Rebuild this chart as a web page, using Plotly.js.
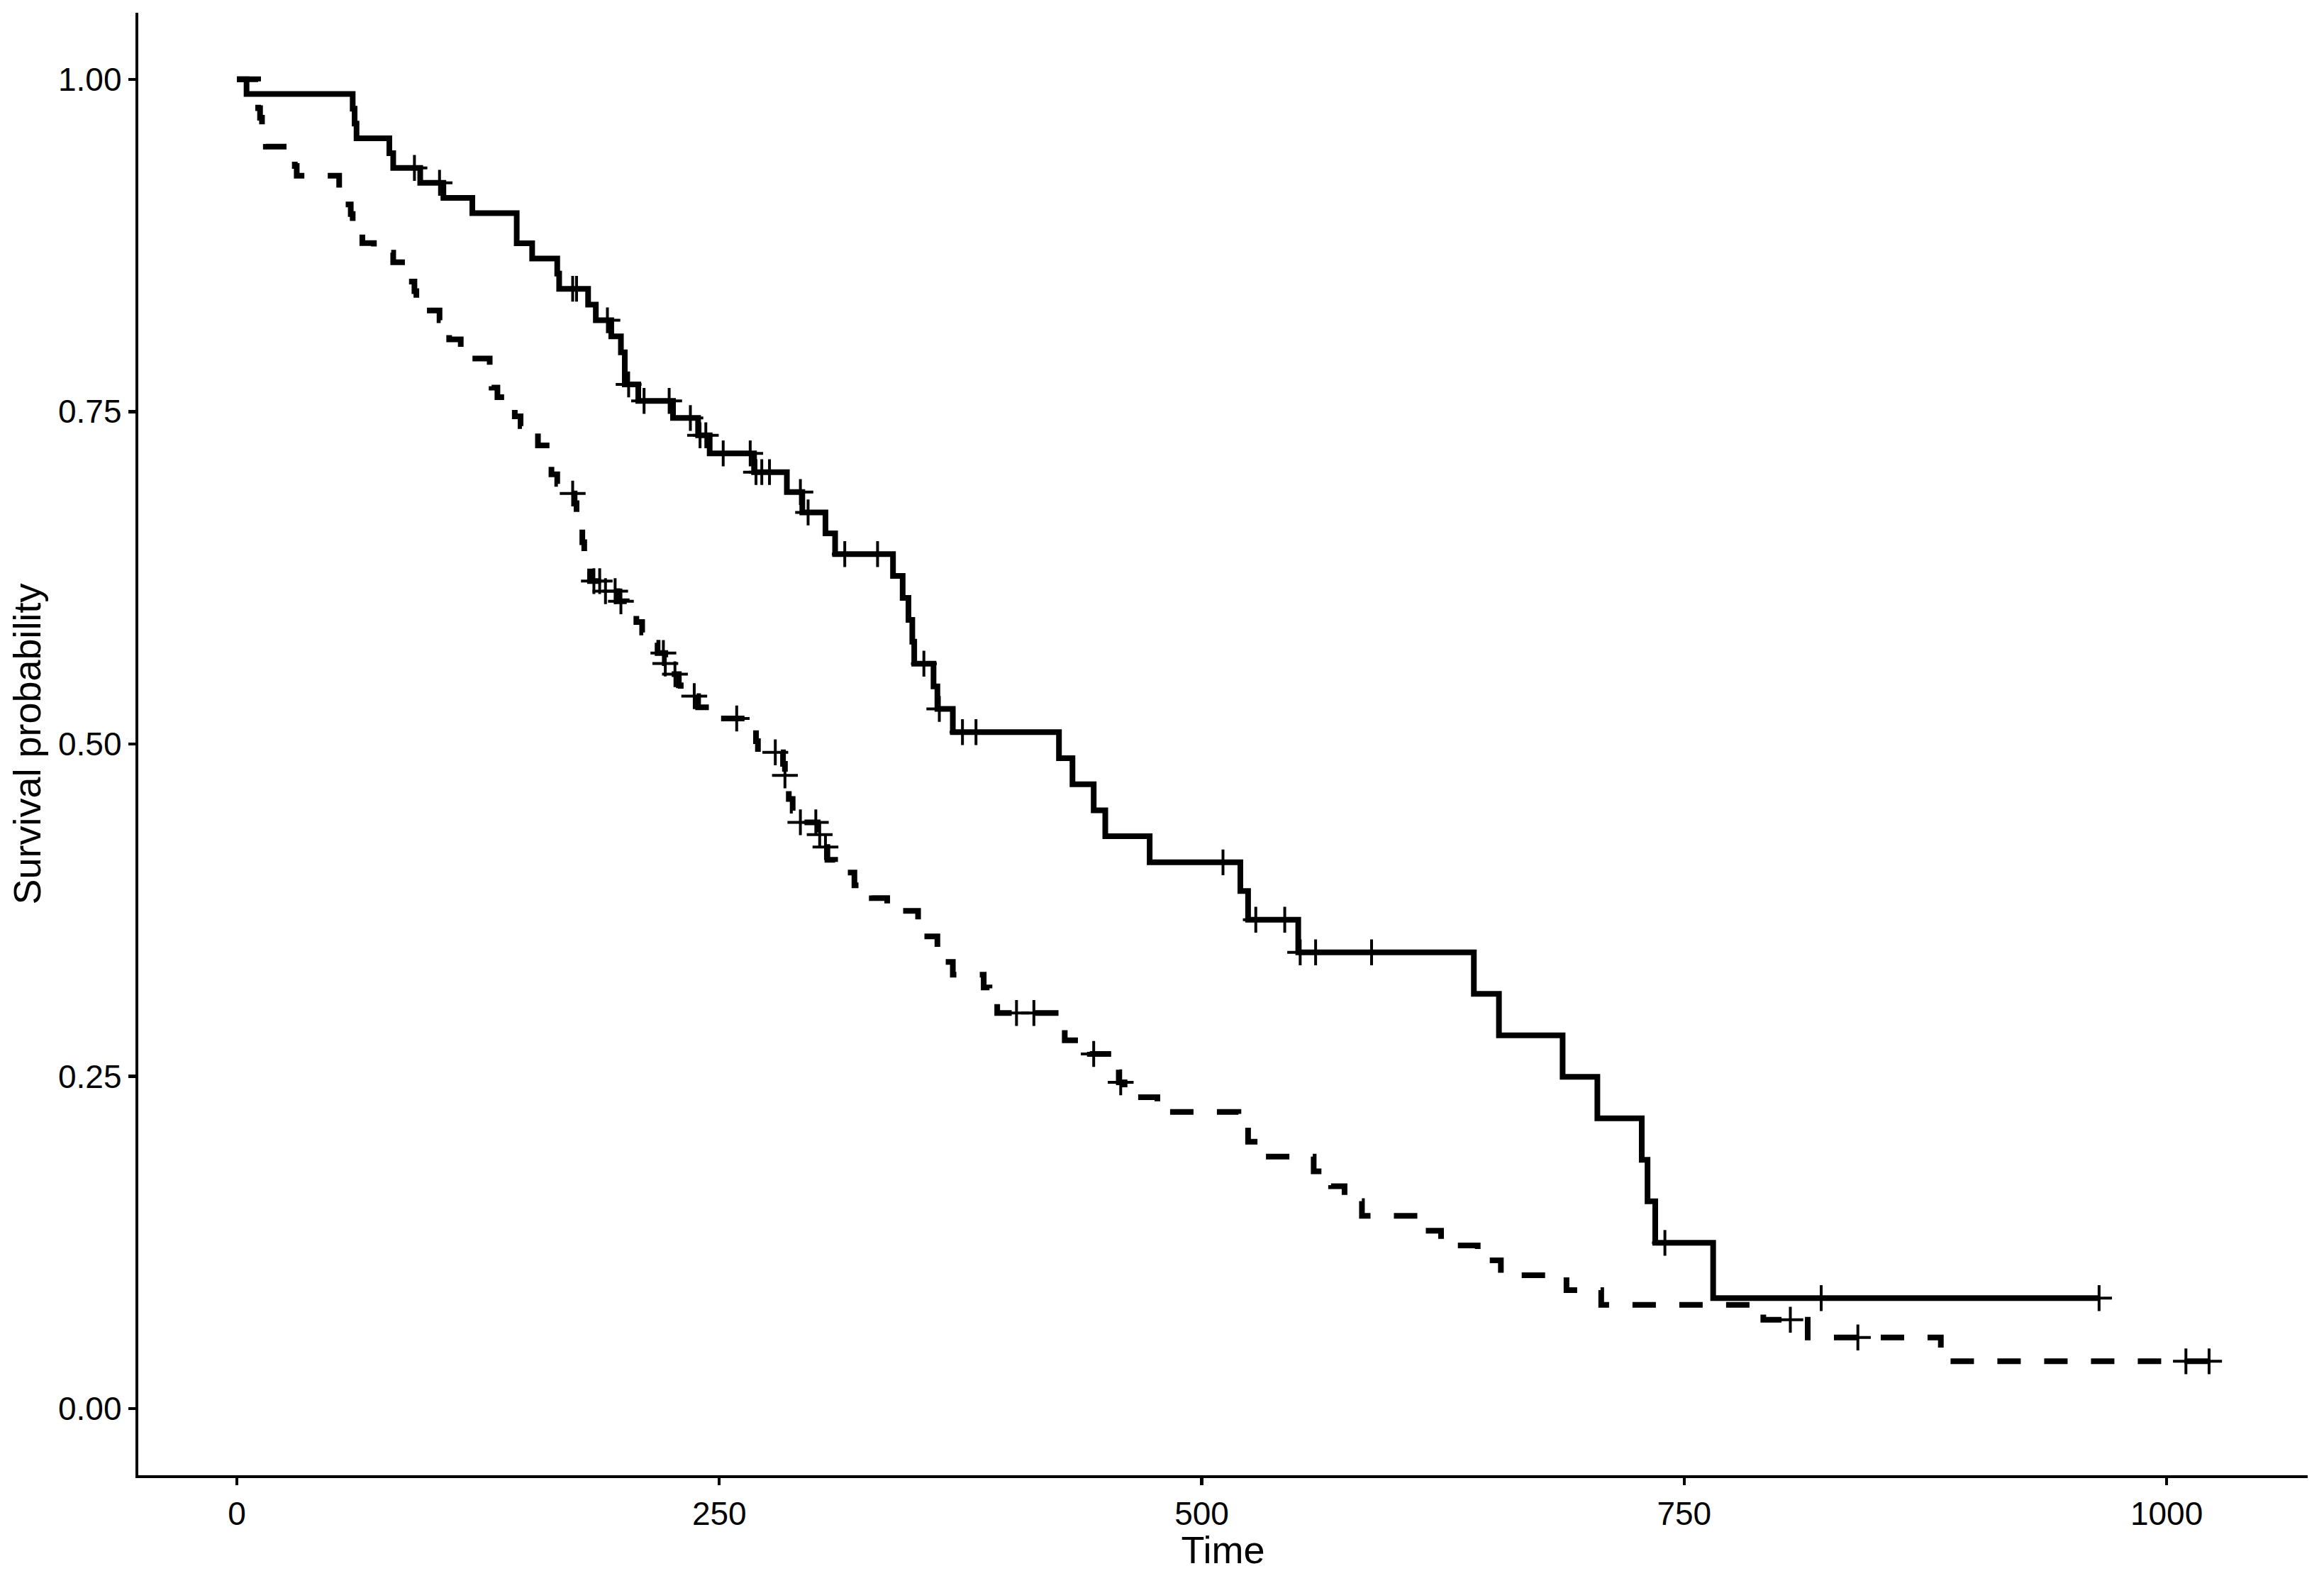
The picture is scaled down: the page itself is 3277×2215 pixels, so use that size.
<!DOCTYPE html>
<html>
<head>
<meta charset="utf-8">
<script src="https://cdn.plot.ly/plotly-3.0.1.min.js"></script>
<style>html,body{margin:0;padding:0;background:#fff;}#chart{width:3277px;height:2215px;}</style>
</head>
<body>
<div id="chart"></div>
<script>
// Step curve for group with solid line
const femaleTime = [0, 5, 60, 61, 62, 79, 81, 95, 107, 122, 145, 153, 166, 167, 182, 186, 194, 199, 201, 208, 226, 239, 245, 268, 285, 293, 305, 310, 340, 345, 348, 350, 351, 361, 363, 371, 426, 433, 444, 450, 473, 520, 524, 550, 641, 654, 687, 705, 728, 731, 735, 765, 965];
const femaleSurv = [1, 0.9889, 0.9778, 0.9667, 0.9556, 0.9444, 0.9333, 0.9221, 0.9107, 0.8993, 0.8766, 0.8652, 0.8538, 0.8424, 0.8305, 0.8187, 0.8066, 0.7946, 0.7705, 0.7581, 0.7452, 0.7322, 0.7186, 0.7045, 0.6895, 0.6742, 0.6585, 0.6428, 0.6264, 0.6099, 0.5934, 0.5769, 0.5604, 0.5434, 0.5264, 0.5089, 0.4893, 0.4697, 0.4501, 0.4306, 0.4110, 0.3894, 0.3678, 0.3433, 0.3121, 0.2809, 0.2497, 0.2185, 0.1873, 0.1561, 0.1248, 0.0832, 0.0832];
const femaleCensor = [92, 105, 174, 176, 192, 203, 211, 224, 235, 240, 243, 252, 266, 269, 272, 276, 292, 296, 315, 332, 356, 364, 376, 383, 511, 528, 543, 551, 559, 588, 740, 821, 965];

// Step curve for group with dashed line
const maleTime = [0, 11, 12, 13, 15, 26, 30, 31, 53, 54, 59, 60, 65, 71, 81, 88, 92, 93, 95, 105, 107, 110, 116, 118, 131, 132, 135, 142, 144, 147, 156, 163, 166, 170, 175, 176, 177, 179, 180, 181, 183, 189, 197, 202, 207, 210, 212, 218, 222, 223, 229, 230, 239, 246, 267, 269, 270, 283, 284, 285, 286, 288, 291, 301, 303, 306, 310, 320, 329, 337, 353, 363, 364, 371, 387, 390, 394, 428, 429, 442, 455, 457, 460, 477, 519, 524, 533, 558, 567, 574, 583, 613, 624, 643, 655, 689, 707, 791, 814, 883, 1022];
const maleSurv = [1, 0.9783, 0.9710, 0.9565, 0.9493, 0.9420, 0.9348, 0.9275, 0.9130, 0.9058, 0.8986, 0.8913, 0.8768, 0.8696, 0.8623, 0.8478, 0.8406, 0.8333, 0.8261, 0.8188, 0.8116, 0.8043, 0.7971, 0.7899, 0.7826, 0.7681, 0.7609, 0.7536, 0.7464, 0.7391, 0.7246, 0.7029, 0.6957, 0.6884, 0.6811, 0.6738, 0.6664, 0.6518, 0.6445, 0.6298, 0.6225, 0.6150, 0.6073, 0.5995, 0.5917, 0.5839, 0.5762, 0.5684, 0.5605, 0.5525, 0.5442, 0.5360, 0.5276, 0.5192, 0.5107, 0.5022, 0.4937, 0.4850, 0.4764, 0.4676, 0.4587, 0.4499, 0.4411, 0.4319, 0.4225, 0.4129, 0.4033, 0.3937, 0.3841, 0.3745, 0.3553, 0.3457, 0.3361, 0.3265, 0.3169, 0.3073, 0.2977, 0.2874, 0.2771, 0.2669, 0.2562, 0.2455, 0.2344, 0.2232, 0.2121, 0.2009, 0.1897, 0.1786, 0.1674, 0.1562, 0.1451, 0.1339, 0.1228, 0.1116, 0.1004, 0.0893, 0.0781, 0.0670, 0.0536, 0.0357, 0.0357];
const maleCensor = [174, 185, 188, 191, 196, 199, 221, 222, 227, 237, 259, 279, 284, 292, 300, 302, 305, 404, 413, 444, 458, 805, 840, 1010, 1022];

const xTicks = [0, 250, 500, 750, 1000];
const yTicks = [0, 0.25, 0.5, 0.75, 1];

// survival of a step curve at a censoring time
function survAt(times, surv, t) {
  let v = surv[0];
  for (let i = 0; i < times.length; i++) { if (times[i] <= t) v = surv[i]; else break; }
  return v;
}

const LW = 8;
const traces = [
  {x: femaleTime, y: femaleSurv, type: 'scatter', mode: 'lines',
   line: {shape: 'hv', color: '#000', width: LW}, hoverinfo: 'skip', showlegend: false},
  {x: maleTime, y: maleSurv, type: 'scatter', mode: 'lines',
   line: {shape: 'hv', color: '#000', width: LW, dash: '33px,33px'}, hoverinfo: 'skip', showlegend: false},
  {x: femaleCensor, y: femaleCensor.map(t => survAt(femaleTime, femaleSurv, t)), type: 'scatter', mode: 'markers',
   marker: {symbol: 'cross-thin', size: 26, color: '#000', line: {color: '#000', width: 4}}, hoverinfo: 'skip', showlegend: false},
  {x: maleCensor, y: maleCensor.map(t => survAt(maleTime, maleSurv, t)), type: 'scatter', mode: 'markers',
   marker: {symbol: 'cross-thin', size: 26, color: '#000', line: {color: '#000', width: 4}}, hoverinfo: 'skip', showlegend: false}
];

const font = 'Liberation Sans, Arial, sans-serif';
const layout = {
  width: 3277, height: 2215,
  margin: {l: 195, r: 23, t: 18, b: 135, pad: 0},
  paper_bgcolor: '#fff', plot_bgcolor: '#fff',
  font: {family: font, color: '#000'},
  showlegend: false,
  xaxis: {
    range: [-51.1, 1073.1], tickvals: xTicks, ticktext: xTicks.map(String),
    showgrid: false, zeroline: false, showline: true, linecolor: '#000', linewidth: 4.3,
    ticks: 'outside', ticklen: 10, tickwidth: 4.3, tickcolor: '#000',
    tickfont: {family: font, size: 46, color: '#000'},
    title: {text: 'Time', font: {family: font, size: 54, color: '#000'}, standoff: 12},
    automargin: false, fixedrange: true
  },
  yaxis: {
    range: [-0.05, 1.05], tickvals: yTicks, ticktext: yTicks.map(v => v.toFixed(2)),
    showgrid: false, zeroline: false, showline: true, linecolor: '#000', linewidth: 4.3,
    ticks: 'outside', ticklen: 10, tickwidth: 4.3, tickcolor: '#000',
    tickfont: {family: font, size: 46, color: '#000'},
    title: {text: 'Survival probability', font: {family: font, size: 54, color: '#000'}, standoff: 8},
    automargin: false, fixedrange: true
  }
};

Plotly.newPlot('chart', traces, layout, {staticPlot: true, displayModeBar: false});
</script>
</body>
</html>
